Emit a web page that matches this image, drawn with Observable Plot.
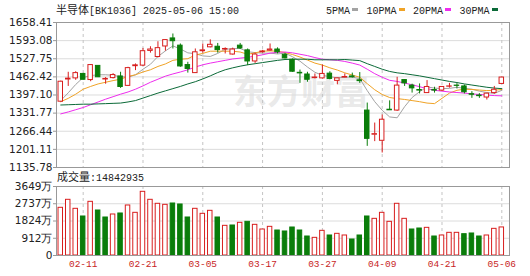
<!DOCTYPE html>
<html><head><meta charset="utf-8">
<script src="https://cdn.jsdelivr.net/npm/d3@7"></script>
<script src="https://cdn.jsdelivr.net/npm/@observablehq/plot@0.6"></script>
<style>
body{margin:0;background:#fff}
#wrap{position:relative;width:530px;height:276px;overflow:hidden;background:#fff}
.abs{position:absolute}
.cjk{font-family:"Noto Sans CJK SC";font-size:11px}
.mono{font-family:"Liberation Mono","DejaVu Sans Mono",monospace;font-size:10px}
#legend{position:absolute;left:326px;top:1px;display:flex;gap:8.5px;line-height:16px;color:#222;white-space:nowrap}
#legend .sq{display:inline-block;width:6px;height:3px;margin-left:2px;vertical-align:middle;position:relative;top:-1px}
</style></head><body>
<div id="wrap">
 <div id="price" class="abs" style="left:0;top:0"></div>
 <div id="vol" class="abs" style="left:0;top:170px"></div>
 <div class="abs" style="left:56px;top:1px;color:#222;line-height:16px;white-space:nowrap"><span class="cjk">半导体</span><span class="mono">[BK1036] 2025-05-06 15:00</span></div>
 <div id="legend"></div>
 <div class="abs" style="left:57px;top:168px;color:#222;line-height:16px;white-space:nowrap"><span class="cjk">成交量</span><span class="mono">:14842935</span></div>
</div>
<script>
const dates = ["02-06","02-07","02-10","02-11","02-12","02-13","02-14","02-17","02-18","02-19","02-20","02-21","02-24","02-25","02-26","02-27","02-28","03-03","03-04","03-05","03-06","03-07","03-10","03-11","03-12","03-13","03-14","03-17","03-18","03-19","03-20","03-21","03-24","03-25","03-26","03-27","03-28","03-31","04-01","04-02","04-03","04-07","04-08","04-09","04-10","04-11","04-14","04-15","04-16","04-17","04-18","04-21","04-22","04-23","04-24","04-25","04-28","04-29","04-30","05-06"];
const xLabels = ["02-11","02-21","03-05","03-17","03-27","04-09","04-21","05-06"];
const open  = [1373,1453,1457,1473,1451,1502,1453,1458,1464,1430,1501,1503,1556,1534,1572,1601,1575,1505,1476,1555,1569,1571,1561,1543,1575,1558,1518,1551,1557,1561,1542,1524,1477,1471,1458,1457,1474,1448,1460,1464,1450,1341,1254,1232,1344,1341,1451,1431,1415,1404,1415,1413,1427,1431,1428,1400,1395,1388,1404,1437];
const high  = [1447,1479,1481,1475,1507,1503,1460,1474,1479,1497,1509,1565,1571,1589,1596,1617,1581,1515,1563,1581,1596,1583,1567,1566,1583,1563,1548,1558,1581,1567,1547,1527,1487,1479,1473,1505,1481,1458,1473,1476,1478,1368,1296,1325,1376,1461,1452,1436,1437,1449,1425,1427,1439,1438,1433,1409,1402,1403,1428,1461];
const low   = [1371,1428,1450,1451,1445,1460,1436,1455,1421,1428,1485,1500,1548,1531,1555,1563,1497,1476,1475,1548,1567,1548,1545,1541,1561,1503,1511,1548,1555,1545,1527,1479,1439,1443,1455,1455,1452,1434,1459,1458,1439,1212,1229,1188,1342,1338,1428,1404,1401,1403,1404,1410,1422,1419,1401,1385,1385,1379,1400,1435];
const close = [1445,1456,1476,1452,1505,1461,1455,1469,1426,1494,1504,1555,1561,1566,1595,1591,1500,1491,1551,1558,1578,1559,1563,1561,1565,1518,1543,1554,1561,1551,1529,1481,1475,1452,1460,1473,1455,1457,1462,1461,1447,1239,1256,1308,1342,1431,1439,1421,1413,1426,1413,1426,1428,1430,1407,1398,1393,1402,1416,1460];
const volume = [2522,2945,2469,2063,2839,2380,2010,2169,2222,2645,2257,3368,2945,2734,2680,2750,2698,2010,2469,2204,2363,2010,1569,1587,1728,1781,1622,1375,1516,1322,1270,1481,1322,1005,934,1305,1058,1146,1058,846,1058,2063,1939,2257,1781,2734,1939,1375,1428,1463,1005,1058,1199,1199,1128,1164,1005,1058,1410,1484];
const ma5  = [1377,1405,1435,1460,1467,1470,1470,1468,1463,1461,1470,1490,1508,1536,1556,1574,1563,1549,1546,1538,1536,1547,1562,1564,1565,1553,1550,1548,1548,1545,1548,1535,1519,1498,1479,1468,1463,1459,1461,1462,1456,1413,1373,1342,1318,1315,1355,1388,1409,1426,1422,1420,1421,1425,1421,1418,1411,1406,1403,1414];
const ma10 = [1373,1385,1400,1418,1428,1437,1443,1449,1454,1464,1470,1480,1488,1500,1509,1522,1526,1528,1541,1547,1555,1555,1555,1555,1552,1544,1549,1555,1556,1555,1550,1543,1534,1523,1512,1505,1495,1487,1477,1469,1461,1438,1416,1399,1388,1384,1381,1377,1373,1368,1366,1385,1404,1414,1418,1417,1415,1413,1414,1417];
const ma20 = [1329,1336,1344,1352,1362,1372,1382,1391,1400,1408,1418,1430,1443,1454,1465,1473,1480,1488,1498,1506,1512,1517,1522,1527,1530,1533,1537,1542,1548,1551,1552,1549,1544,1539,1532,1526,1524,1522,1518,1512,1505,1490,1474,1461,1450,1446,1440,1434,1427,1420,1414,1411,1408,1406,1404,1401,1399,1397,1395,1394];
const ma30 = [1361,1362,1363,1364,1364,1365,1366,1367,1368,1372,1377,1386,1395,1404,1412,1420,1428,1437,1445,1455,1466,1478,1488,1495,1501,1506,1510,1514,1518,1522,1525,1526,1526,1526,1524,1524,1524,1524,1525,1523,1521,1510,1500,1490,1482,1477,1474,1470,1466,1461,1456,1451,1446,1442,1437,1433,1429,1425,1422,1420];
const priceTicks = [1135.78,1201.11,1266.44,1331.77,1397.10,1462.42,1527.75,1593.08,1658.41];
const volTicks = [0,912,1824,2737,3649];
const maNames = ["5PMA","10PMA","20PMA","30PMA"];
const maColors = ["#a3a3a3","#f0a326","#ee2cee","#0b6a38"];
const maSeries = [ma5, ma10, ma20, ma30];

const RED = "#d81e1e", GREEN = "#0a7d0a", LABEL_RED = "#c81e1e";
const hw = 0.3;
const xDomain = [0.43, 61.03];
const labelIdx = xLabels.map(s => dates.indexOf(s) + 1);
const candles = dates.map((d, k) => ({
  i: k + 1, o: open[k], h: high[k], l: low[k], c: close[k], v: volume[k],
  up: close[k] >= open[k], vup: k === 0 || close[k] >= close[k - 1]
}));
const svgStyle = {background: "transparent", fontFamily: "DejaVu Sans", fontSize: "10.5px", color: "#222", overflow: "visible"};

const pricePlot = Plot.plot({
  width: 530, height: 170, marginLeft: 56, marginRight: 21, marginTop: 22, marginBottom: 3,
  x: {domain: xDomain, axis: null, label: null}, y: {domain: [priceTicks[0], priceTicks[priceTicks.length - 1]], axis: null, label: null},
  color: {type: "identity"},
  style: svgStyle,
  marks: [
    Plot.text(["东方财富"], {frameAnchor: "middle", dx: 18, dy: -2, fontSize: 34, fontWeight: "bold", fill: "#c8c8c8", fillOpacity: 0.4, fontFamily: "Noto Sans CJK SC"}),
    Plot.ruleY(priceTicks.slice(1, -1), {stroke: "#dcdcdc"}),
    Plot.ruleX(labelIdx, {stroke: "#c4c4c4", strokeDasharray: "3,3"}),
    ...maSeries.map((s, j) => Plot.line(s, {x: (d, k) => k + 1, y: d => d, stroke: maColors[j], strokeWidth: 1})),
    Plot.ruleX(candles, {x: "i", y1: "l", y2: "h", stroke: d => d.up ? RED : GREEN}),
    Plot.rect(candles, {x1: d => d.i - hw, x2: d => d.i + hw, y1: d => Math.min(d.o, d.c), y2: d => Math.max(d.o, d.c),
      fill: d => d.up ? "white" : GREEN, stroke: d => d.up ? RED : GREEN}),
    Plot.frame({stroke: "#999"}),
    Plot.axisY({ticks: priceTicks, tickFormat: d => d.toFixed(2), tickSize: 3, tickPadding: 1, stroke: "#999", fill: "#222", label: null})
  ]
});
document.getElementById("price").appendChild(pricePlot);

const volPlot = Plot.plot({
  width: 530, height: 106, marginLeft: 56, marginRight: 21, marginTop: 16, marginBottom: 21,
  x: {domain: xDomain, axis: null, label: null}, y: {domain: [0, 3649], axis: null, label: null},
  color: {type: "identity"},
  style: svgStyle,
  marks: [
    Plot.ruleY(volTicks.slice(1, -1), {stroke: "#dcdcdc"}),
    Plot.ruleX(labelIdx, {stroke: "#c4c4c4", strokeDasharray: "3,3"}),
    Plot.rect(candles, {x1: d => d.i - hw, x2: d => d.i + hw, y1: 0, y2: "v",
      fill: d => d.vup ? "white" : GREEN, stroke: d => d.vup ? RED : GREEN}),
    Plot.frame({stroke: "#999"}),
    Plot.axisY({ticks: volTicks, tickFormat: d => d === 0 ? "0" : d + "万", tickSize: 3, tickPadding: 1, stroke: "#999", fill: "#222", label: null}),
    Plot.axisX({ticks: labelIdx, tickFormat: i => dates[i - 1], tickSize: 0, tickPadding: 5, fill: LABEL_RED, fontFamily: "Liberation Mono", fontSize: 9.5, label: null})
  ]
});
document.getElementById("vol").appendChild(volPlot);

const legend = document.getElementById("legend");
maNames.forEach((n, j) => {
  const item = document.createElement("span");
  item.innerHTML = `<span class="mono">${n}</span><span class="sq" style="background:${maColors[j]}"></span>`;
  legend.appendChild(item);
});
</script>
</body></html>
